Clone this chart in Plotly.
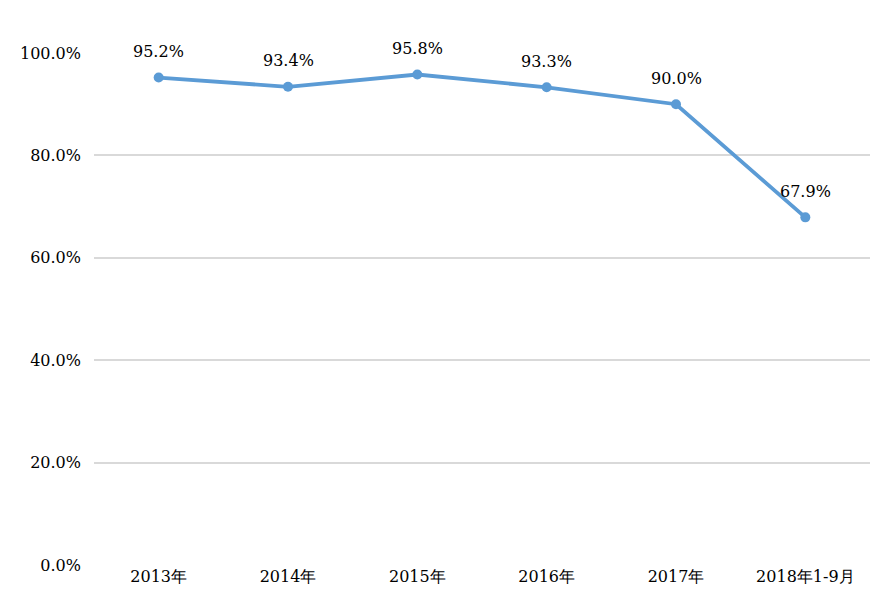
import plotly.graph_objects as go

categories = ["2013年", "2014年", "2015年", "2016年", "2017年", "2018年1-9月"]
values = [95.2, 93.4, 95.8, 93.3, 90.0, 67.9]
tick_vals = [0, 20, 40, 60, 80, 100]
tick_text = ["0.0%", "20.0%", "40.0%", "60.0%", "80.0%", "100.0%"]

FONT = "DejaVu Serif"

fig = go.Figure()
fig.add_trace(go.Scatter(
    x=categories, y=values, mode="lines+markers",
    line=dict(color="#5B9BD5", width=3.8),
    marker=dict(color="#5B9BD5", size=10),
    hoverinfo="skip", showlegend=False,
))
for c, v in zip(categories, values):
    fig.add_annotation(x=c, y=v, text=f"{v:.1f}%", showarrow=False,
                       yshift=26, font=dict(family=FONT, size=16, color="#000000"))

fig.update_layout(
    width=890, height=616,
    margin=dict(l=84, r=28, t=45, b=59),
    paper_bgcolor="white", plot_bgcolor="white",
    font=dict(family=FONT, size=16, color="#000000"),
    xaxis=dict(type="category", showgrid=False, showline=False, zeroline=False,
               ticks="", tickfont=dict(family=FONT, size=16), range=[-0.5, 5.5]),
    yaxis=dict(range=[0, 100], tickvals=tick_vals, ticktext=tick_text,
               showgrid=True, gridcolor="#D9D9D9", gridwidth=1.5,
               zeroline=False, showline=False, ticks="", ticklen=0,
               tickfont=dict(family=FONT, size=16)),
)
fig.update_yaxes(ticklabelstandoff=12)
fig.write_html("out.html")
